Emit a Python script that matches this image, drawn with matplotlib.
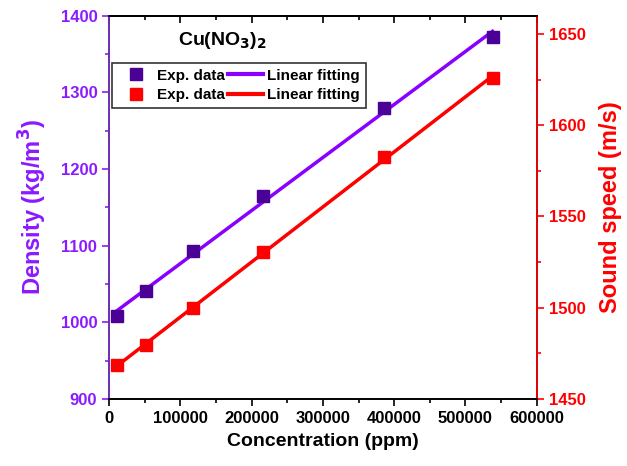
import numpy as np
import matplotlib
matplotlib.use("Agg")
import matplotlib.pyplot as plt
from matplotlib.ticker import MultipleLocator, NullFormatter
from matplotlib.lines import Line2D

plt.rcParams['font.family'] = ['Liberation Sans', 'DejaVu Sans']
plt.rcParams['font.weight'] = 'bold'

concentration = [11700, 51600, 118000, 215600, 385300, 538000]
density = [1008, 1041, 1093, 1164.5, 1280, 1372]
sound_speed = [1468.7, 1479.6, 1499.6, 1530.4, 1582.4, 1626]

purple_line = '#8A00FF'
purple_mark = '#4B0096'
purple_text = '#8B1AFF'
red = '#FF0000'

fig = plt.figure(figsize=(6.27, 4.66), dpi=100)
ax = fig.add_axes([0.174, 0.144, 0.682, 0.822])
ax2 = ax.twinx()

x = np.array(concentration)
xf = np.array([x.min(), x.max()])

# least-squares fits drawn across the measured range
p1 = np.polyfit(x, density, 1)
ax.plot(xf, np.polyval(p1, xf), color=purple_line, lw=2.5, zorder=2)
ax.plot(x, density, 's', color=purple_mark, ms=9, zorder=3)

p2 = np.polyfit(x, sound_speed, 1)
ax2.plot(xf, np.polyval(p2, xf), color=red, lw=2.5, zorder=2)
ax2.plot(x, sound_speed, 's', color=red, ms=9, zorder=3)

ax.set_xlim(0, 600000)
ax.set_ylim(900, 1400)
ax2.set_ylim(1450, 1660)

ax.xaxis.set_major_locator(MultipleLocator(100000))
ax.xaxis.set_minor_locator(MultipleLocator(50000))
ax.yaxis.set_major_locator(MultipleLocator(100))
ax.yaxis.set_minor_locator(MultipleLocator(50))
ax2.yaxis.set_major_locator(MultipleLocator(50))
ax2.yaxis.set_minor_locator(MultipleLocator(25))

ax.tick_params(axis='x', which='both', direction='out', labelsize=12, width=1.2)
ax.tick_params(axis='x', which='major', length=5)
ax.tick_params(axis='x', which='minor', length=3)
ax.tick_params(axis='y', which='both', direction='out', colors=purple_text, labelsize=12, width=1.2)
ax.tick_params(axis='y', which='major', length=5)
ax.tick_params(axis='y', which='minor', length=3)
ax2.tick_params(axis='y', which='both', direction='out', colors=red, labelsize=12, width=1.2)
ax2.tick_params(axis='y', which='major', length=5)
ax2.tick_params(axis='y', which='minor', length=3)

# inward ticks along the top edge
top = ax.secondary_xaxis('top')
top.xaxis.set_major_locator(MultipleLocator(100000))
top.xaxis.set_minor_locator(MultipleLocator(50000))
top.xaxis.set_major_formatter(NullFormatter())
top.tick_params(axis='x', which='both', direction='in', width=1.2)
top.tick_params(axis='x', which='major', length=5)
top.tick_params(axis='x', which='minor', length=3)
top.spines['top'].set_linewidth(1.2)

for lab in ax.get_xticklabels() + ax.get_yticklabels() + ax2.get_yticklabels():
    lab.set_fontweight('bold')

ax.spines['left'].set_color('#6A2FB0')
ax2.spines['left'].set_color('#6A2FB0')
ax2.spines['right'].set_color(red)
for s in ['left', 'right', 'top', 'bottom']:
    ax2.spines[s].set_linewidth(1.2)
    ax.spines[s].set_linewidth(1.2)

ax.set_xlabel('Concentration (ppm)', fontsize=14, fontweight='bold', labelpad=5)
ax.set_ylabel('Density (kg/m$^\\mathbf{3}$)', fontsize=17, fontweight='bold',
              color=purple_text, labelpad=8)
ax2.set_ylabel('Sound speed (m/s)', fontsize=17, fontweight='bold', color=red, labelpad=10)

ax.text(0.161, 0.925, 'Cu(NO$_\\mathbf{3}$)$_\\mathbf{2}$', transform=ax.transAxes,
        fontsize=14, fontweight='bold', color='black')

handles = [
    Line2D([], [], ls='none', marker='s', color=purple_mark, ms=8),
    Line2D([], [], ls='none', marker='s', color=red, ms=8),
    Line2D([], [], color=purple_line, lw=3),
    Line2D([], [], color=red, lw=3),
]
labels = ['Exp. data', 'Exp. data', 'Linear fitting', 'Linear fitting']
leg = ax.legend(handles, labels, ncol=2, loc='upper left', bbox_to_anchor=(0.007, 0.878),
                frameon=True, fancybox=False, edgecolor='black',
                handlelength=2.3, handletextpad=0.25, columnspacing=0.2,
                labelspacing=0.35, borderpad=0.4, borderaxespad=0,
                prop={'weight': 'bold', 'size': 11})
leg.get_frame().set_linewidth(1.2)

fig.savefig('out.png', dpi=100)
